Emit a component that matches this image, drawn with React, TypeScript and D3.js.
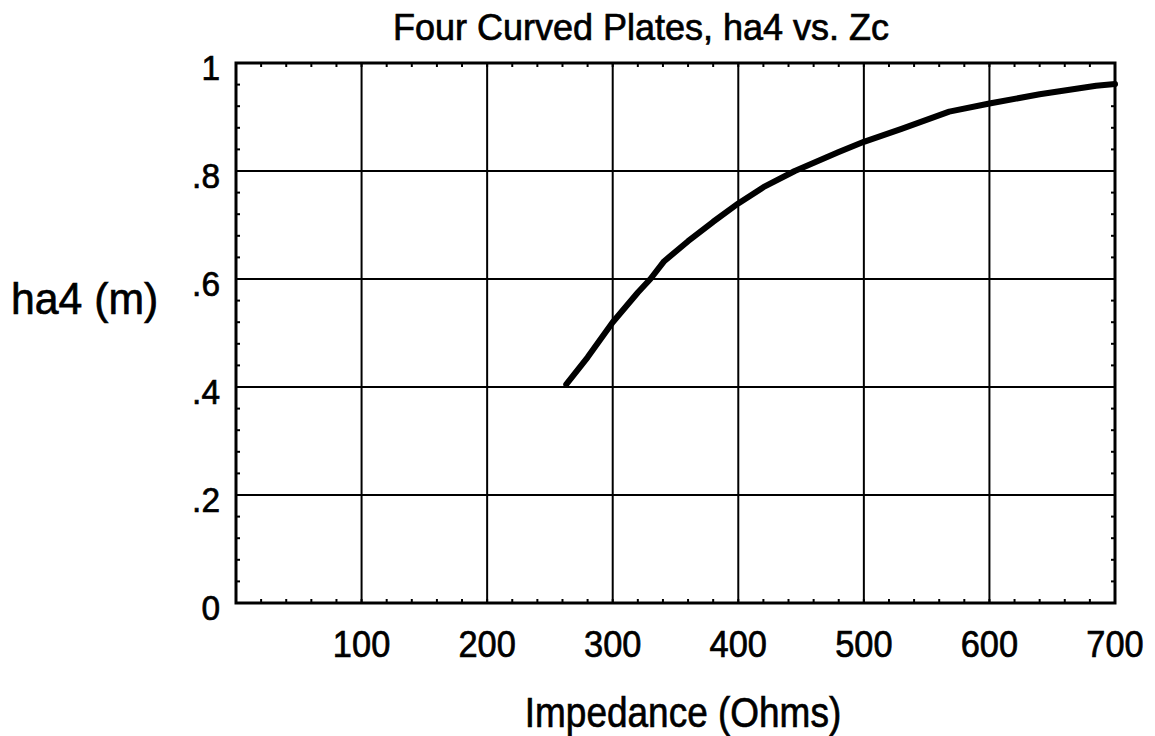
import React from 'react';
import * as d3 from 'd3';

// curve: impedance (ohms) vs ha4 (m)
const impedance = [263, 280, 300, 320, 330, 341, 360, 380, 400, 420, 445, 480, 500, 530, 568, 600, 640, 685, 700];
const ha4 = [0.405, 0.455, 0.52, 0.575, 0.6, 0.633, 0.67, 0.706, 0.74, 0.77, 0.8, 0.835, 0.854, 0.878, 0.91, 0.925, 0.942, 0.958, 0.961];

const xMajor = [100, 200, 300, 400, 500, 600, 700];
const yMajor = [0, 0.2, 0.4, 0.6, 0.8, 1];
const yTickLabels = ['0', '.2', '.4', '.6', '.8', '1'];

const W = 1155;
const H = 736;
const FONT = 'Arial, "Liberation Sans", Helvetica, sans-serif';

// the scanned lettering is a bit narrower and heavier than plain Arial
const Label = ({ x, y, size, sx, anchor = 'start', children }: any) => (
    <text
        transform={`translate(${x},${y}) scale(${sx},1)`}
        textAnchor={anchor}
        fontFamily={FONT}
        fontSize={size}
        fill="#000"
        stroke="#000"
        strokeWidth={0.7}
    >
        {children}
    </text>
);

const App = () => {
    const x = d3.scaleLinear().domain([0, 700]).range([236, 1115]);
    const y = d3.scaleLinear().domain([0, 1]).range([603, 63]);

    const pts = impedance.map((v, i) => [v, ha4[i]] as [number, number]);
    const line = d3.line<[number, number]>()
        .x(d => x(d[0]))
        .y(d => y(d[1]));

    // minor ticks every 20 ohms and every .04
    const xMinor = d3.range(0, 701, 20);
    const yMinor = d3.range(0, 1.0001, 0.04);
    const tl = 4;

    return (
        <svg width={W} height={H} style={{ position: 'absolute', left: 0, top: 0, background: '#fff' }}>
            <Label x={641} y={40} size={36} sx={1.0} anchor="middle">Four Curved Plates, ha4 vs. Zc</Label>

            {/* grid */}
            {xMajor.map(v => (
                <line key={'gx' + v} x1={x(v)} x2={x(v)} y1={y(0)} y2={y(1)} stroke="#000" strokeWidth={2} />
            ))}
            {yMajor.map(v => (
                <line key={'gy' + v} x1={x(0)} x2={x(700)} y1={y(v)} y2={y(v)} stroke="#000" strokeWidth={2} />
            ))}

            {/* minor ticks, pointing inward on all sides */}
            {xMinor.map(v => (
                <g key={'mx' + v}>
                    <line x1={x(v)} x2={x(v)} y1={y(0)} y2={y(0) - tl} stroke="#000" strokeWidth={2} />
                    <line x1={x(v)} x2={x(v)} y1={y(1)} y2={y(1) + tl} stroke="#000" strokeWidth={2} />
                </g>
            ))}
            {yMinor.map(v => (
                <g key={'my' + v}>
                    <line x1={x(0)} x2={x(0) + tl} y1={y(v)} y2={y(v)} stroke="#000" strokeWidth={2} />
                    <line x1={x(700)} x2={x(700) - tl} y1={y(v)} y2={y(v)} stroke="#000" strokeWidth={2} />
                </g>
            ))}

            <rect x={x(0)} y={y(1)} width={x(700) - x(0)} height={y(0) - y(1)} fill="none" stroke="#000" strokeWidth={3} />

            <path d={line(pts) || ''} fill="none" stroke="#000" strokeWidth={6} strokeLinejoin="round" strokeLinecap="round" />

            {/* tick labels */}
            {xMajor.map(v => (
                <Label key={'lx' + v} x={x(v)} y={657} size={37} sx={0.93} anchor="middle">{v}</Label>
            ))}
            {yMajor.map((v, i) => (
                <Label key={'ly' + v} x={220} y={y(v) + 17} size={36} sx={0.93} anchor="end">{yTickLabels[i]}</Label>
            ))}

            <Label x={11} y={314} size={45} sx={0.95}>ha4 (m)</Label>
            <Label x={683} y={727} size={43} sx={0.86} anchor="middle">Impedance (Ohms)</Label>
        </svg>
    );
};

export default App;
